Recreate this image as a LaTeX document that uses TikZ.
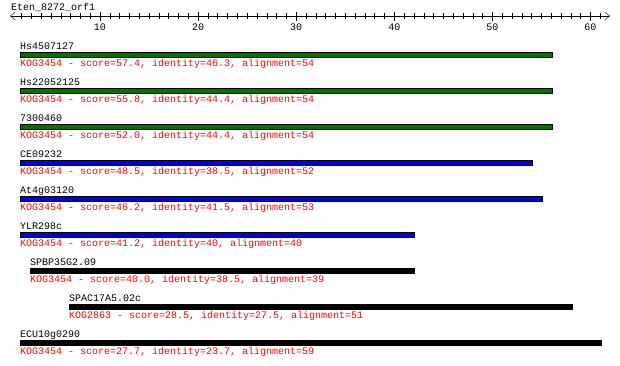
\documentclass[tikz,border=0pt]{standalone}
\usepackage{fontspec}
\setmonofont{Liberation Mono}
\usetikzlibrary{arrows.meta}

\definecolor{hitgreen}{RGB}{0,115,0}
\definecolor{hitblue}{RGB}{0,0,225}
\definecolor{hitred}{RGB}{255,0,0}

\begin{document}
\begin{tikzpicture}[x=1pt, y=-1pt,
    every node/.style={font=\ttfamily\fontsize{10}{12}\selectfont, inner sep=0pt},
    hitname/.style={anchor=base west},
    score/.style={anchor=base west, text=hitred},
    hitbar/.style={anchor=west, draw=black, line width=1pt, minimum height=5pt}]

	\useasboundingbox (0,0) rectangle (620,365);

	% Axis.
	\node[hitname] (query) at (11,10) {Eten\_8272\_orf1};
	\coordinate (axis_start) at (10,16);
	\coordinate   (axis_end) at (610,16);
	\draw[{Straight Barb[length=5pt,width=8pt]}-{Straight Barb[length=5pt,width=8pt]}] (axis_start) -- (axis_end);
	\foreach \u in {2,...,61}
		\draw ({1.87+9.81*\u},13) -- ({1.87+9.81*\u},19);
	\foreach \u in {10,20,...,60} {
		\draw ({1.87+9.81*\u},12) -- ({1.87+9.81*\u},21);
		\node[anchor=base] (tick_\u) at ({1.87+9.81*\u},30) {\u};
	}

	% Hit labels.
	\node[hitname]     (hs4507127) at (20,49)  {Hs4507127};
	\node[hitname]    (hs22052125) at (20,85)  {Hs22052125};
	\node[hitname]       (dm73004) at (20,121) {7300460};
	\node[hitname]       (ce09232) at (20,157) {CE09232};
	\node[hitname]     (at4g03120) at (20,193) {At4g03120};
	\node[hitname]       (ylr298c) at (20,229) {YLR298c};
	\node[hitname]   (spbp35g2_09) at (30,265) {SPBP35G2.09};
	\node[hitname]  (spac17a5_02c) at (69,301) {SPAC17A5.02c};
	\node[hitname]    (ecu10g0290) at (20,337) {ECU10g0290};

	% Hit bars.
	\node[hitbar, fill=hitgreen, minimum width=531.5pt]     (bar_hs4507127) at (20,54.5)  {};
	\node[hitbar, fill=hitgreen, minimum width=531.5pt]    (bar_hs22052125) at (20,90.5)  {};
	\node[hitbar, fill=hitgreen, minimum width=531.5pt]       (bar_dm73004) at (20,126.5) {};
	\node[hitbar, fill=hitblue,  minimum width=511.5pt]       (bar_ce09232) at (20,162.5) {};
	\node[hitbar, fill=hitblue,  minimum width=521.5pt]     (bar_at4g03120) at (20,198.5) {};
	\node[hitbar, fill=hitblue,  minimum width=393.5pt]       (bar_ylr298c) at (20,234.5) {};
	\node[hitbar, fill=black,    minimum width=383.5pt]   (bar_spbp35g2_09) at (30,270.5) {};
	\node[hitbar, fill=black,    minimum width=502.5pt]  (bar_spac17a5_02c) at (69,306.5) {};
	\node[hitbar, fill=black,    minimum width=581pt]      (bar_ecu10g0290) at (20,342.5) {};

	% Scores.
	\node[score]     (score_hs4507127) at (20,66)  {KOG3454 - score=57.4, identity=46.3, alignment=54};
	\node[score]    (score_hs22052125) at (20,102) {KOG3454 - score=55.8, identity=44.4, alignment=54};
	\node[score]       (score_dm73004) at (20,138) {KOG3454 - score=52.0, identity=44.4, alignment=54};
	\node[score]       (score_ce09232) at (20,174) {KOG3454 - score=48.5, identity=38.5, alignment=52};
	\node[score]     (score_at4g03120) at (20,210) {KOG3454 - score=46.2, identity=41.5, alignment=53};
	\node[score]       (score_ylr298c) at (20,246) {KOG3454 - score=41.2, identity=40, alignment=40};
	\node[score]   (score_spbp35g2_09) at (30,282) {KOG3454 - score=40.0, identity=38.5, alignment=39};
	\node[score]  (score_spac17a5_02c) at (69,318) {KOG2863 - score=28.5, identity=27.5, alignment=51};
	\node[score]    (score_ecu10g0290) at (20,354) {KOG3454 - score=27.7, identity=23.7, alignment=59};

\end{tikzpicture}
\end{document}
